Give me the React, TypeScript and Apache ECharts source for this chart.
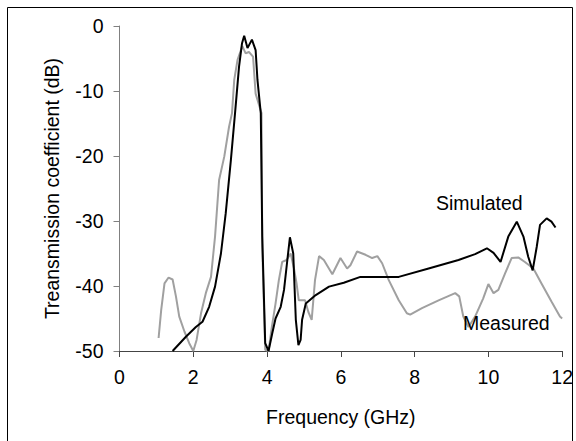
import React, { useEffect, useRef } from "react";
import * as echarts from "echarts";

const xTicks = [0, 2, 4, 6, 8, 10, 12];
const yTicks = [0, -10, -20, -30, -40, -50];

const simFreq = [1.44, 1.8, 2.07, 2.25, 2.43, 2.59, 2.75, 2.88, 3.02, 3.14, 3.24, 3.32, 3.38, 3.47, 3.59, 3.69, 3.74, 3.83, 3.87, 3.95, 4.04, 4.14, 4.23, 4.37, 4.46, 4.55, 4.62, 4.71, 4.78, 4.85, 4.91, 4.95, 5.05, 5.32, 5.68, 6.08, 6.53, 7.57, 8.38, 9.19, 9.64, 9.96, 10.14, 10.33, 10.54, 10.77, 10.95, 11.08, 11.2, 11.31, 11.4, 11.58, 11.71, 11.82];
const simDb = [-50, -47.8, -46.3, -45.5, -43.2, -40.1, -35, -28.8, -20.6, -12.9, -6.3, -2.7, -1.5, -3.4, -2.1, -3.7, -8.3, -13.4, -32.4, -48.8, -50, -47.3, -45, -43.2, -40.6, -36, -32.5, -35, -45.2, -49.1, -48.3, -45.2, -42.7, -41.4, -40.1, -39.5, -38.6, -38.6, -37.3, -36, -35.1, -34.2, -34.9, -36.3, -32.4, -30.1, -32.4, -35.5, -37.6, -34, -30.6, -29.6, -30.1, -31];

const measFreq = [1.06, 1.13, 1.22, 1.33, 1.44, 1.53, 1.62, 1.76, 1.89, 2.0, 2.09, 2.21, 2.34, 2.48, 2.59, 2.7, 2.84, 2.97, 3.05, 3.11, 3.2, 3.33, 3.42, 3.51, 3.62, 3.69, 3.85, 3.87, 3.95, 4.04, 4.13, 4.23, 4.32, 4.41, 4.53, 4.64, 4.73, 4.8, 4.86, 5.03, 5.12, 5.21, 5.3, 5.41, 5.54, 5.77, 5.99, 6.17, 6.26, 6.44, 6.67, 6.85, 6.99, 7.12, 7.3, 7.57, 7.79, 7.88, 8.2, 8.65, 9.1, 9.21, 9.32, 9.46, 9.64, 9.86, 10.0, 10.14, 10.27, 10.45, 10.63, 10.81, 10.99, 11.22, 11.44, 11.71, 11.94, 12.0];
const measDb = [-48, -43.7, -39.6, -38.7, -39, -41.6, -44.7, -47, -48.8, -50, -48.3, -44.2, -41.1, -38.6, -32.4, -23.7, -20.1, -15.5, -13.4, -8.3, -5.2, -3.1, -4.2, -4, -4.7, -10.4, -13.4, -34, -49.8, -50, -46.3, -42.7, -39.1, -36.3, -36, -35, -37.3, -39.6, -42.2, -42.2, -44, -45.2, -39.1, -35.4, -36, -38.2, -35.7, -37.3, -36.8, -34.7, -35.2, -35.7, -35.4, -36.5, -39.1, -42.2, -44.2, -44.4, -43.4, -42.2, -41.1, -41.6, -44.7, -46.3, -44.7, -41.9, -39.7, -41.1, -40.6, -38.1, -35.7, -35.6, -36.3, -37.3, -39.6, -42.4, -44.7, -45];

const xName = "Frequency (GHz)";
const yName = "Treansmission coefficient (dB)";
const simLabel = "Simulated";
const measLabel = "Measured";

const FONT = "Liberation Sans, Arial, sans-serif";

export default function App() {
  const ref = useRef<HTMLDivElement>(null);
  useEffect(() => {
    if (!ref.current) return;
    const chart = echarts.init(ref.current, undefined, { renderer: "svg" });
    const sim = simFreq.map((f, i) => [f, simDb[i]]);
    const meas = measFreq.map((f, i) => [f, measDb[i]]);
    chart.setOption({
      animation: false,
      backgroundColor: "#fff",
      grid: { left: 119.5, right: 12, top: 26, bottom: 90, containLabel: false },
      xAxis: {
        type: "value",
        min: xTicks[0],
        max: xTicks[xTicks.length - 1],
        interval: 2,
        name: xName,
        nameLocation: "middle",
        nameGap: 56,
        nameTextStyle: { fontSize: 19.5, color: "#000", fontFamily: FONT },
        axisLine: { show: true, onZero: false, lineStyle: { color: "#444", width: 1 } },
        axisTick: { show: true, inside: false, length: 6, lineStyle: { color: "#444" } },
        axisLabel: { fontSize: 19.5, color: "#000", fontFamily: FONT, margin: 16 },
        splitLine: { show: false },
      },
      yAxis: {
        type: "value",
        min: yTicks[yTicks.length - 1],
        max: yTicks[0],
        interval: 10,
        name: yName,
        nameLocation: "middle",
        nameGap: 58,
        nameTextStyle: { fontSize: 19.5, color: "#000", fontFamily: FONT },
        axisLine: { show: true, lineStyle: { color: "#808080", width: 1 } },
        axisTick: { show: true, inside: false, length: 6, lineStyle: { color: "#808080" } },
        axisLabel: { fontSize: 19.5, color: "#000", fontFamily: FONT, margin: 16 },
        splitLine: { show: false },
      },
      series: [
        {
          name: measLabel,
          type: "line",
          data: meas,
          showSymbol: false,
          lineStyle: { color: "#a0a0a0", width: 2 },
          z: 2,
        },
        {
          name: simLabel,
          type: "line",
          data: sim,
          showSymbol: false,
          lineStyle: { color: "#000", width: 2 },
          z: 3,
        },
      ],
      graphic: [
        {
          type: "rect",
          shape: { x: 7.5, y: 7.5, width: 565, height: 440 },
          style: { fill: "none", stroke: "#000", lineWidth: 1 },
          silent: true,
        },
        {
          type: "text",
          x: 436,
          y: 203,
          style: { text: simLabel, fontSize: 19.5, fontFamily: FONT, fill: "#000", verticalAlign: "middle" },
          z: 10,
        },
        {
          type: "text",
          x: 463,
          y: 323,
          style: { text: measLabel, fontSize: 19.5, fontFamily: FONT, fill: "#000", verticalAlign: "middle" },
          z: 10,
        },
      ],
    });
    return () => chart.dispose();
  }, []);
  return <div ref={ref} style={{ position: "fixed", left: 0, top: 0, width: 576, height: 441 }} />;
}
